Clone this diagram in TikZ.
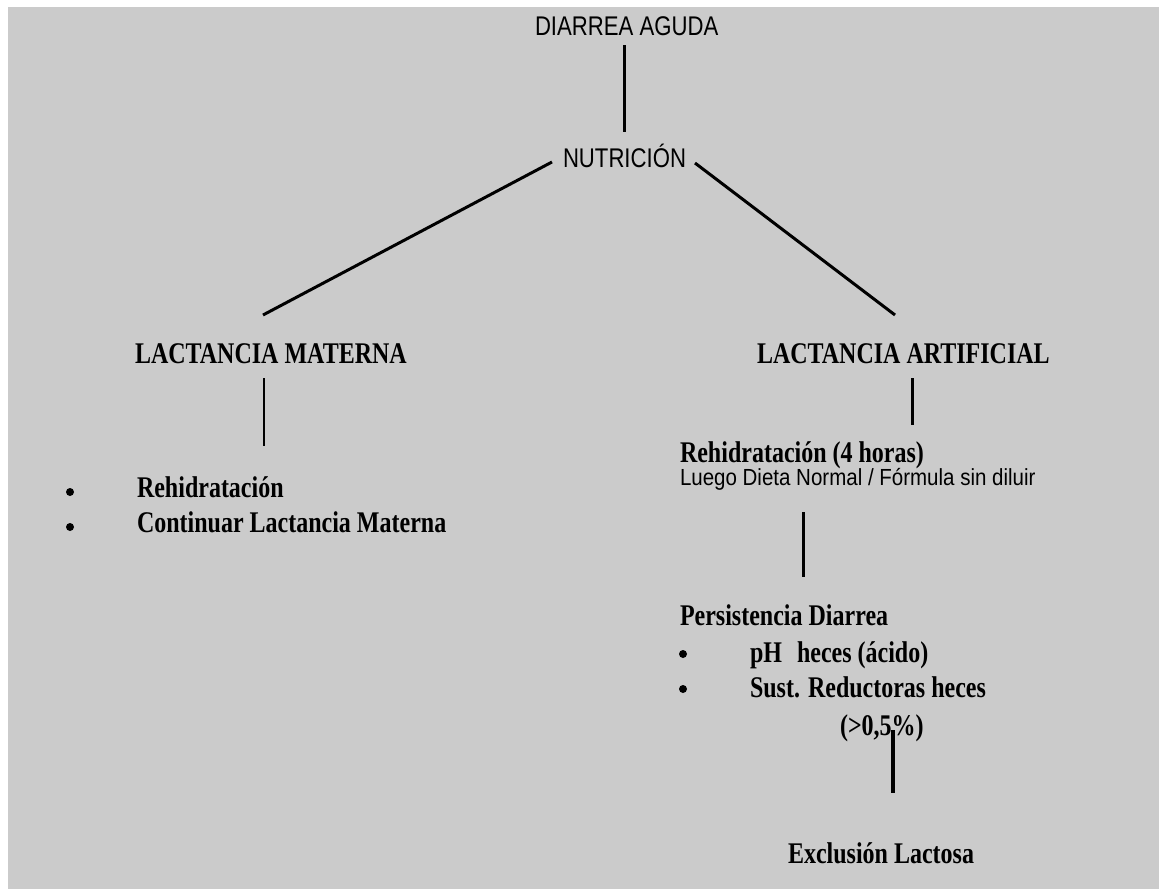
\documentclass[tikz,border=0pt]{standalone}
\usepackage{fontspec}
\setmainfont{Liberation Serif}
\newfontfamily\titlesans[FakeStretch=0.82]{Liberation Sans}
\newfontfamily\plainsans[FakeStretch=0.88]{Liberation Sans}
\newfontfamily\boldserif[FakeStretch=0.8]{Liberation Serif}
\begin{document}
\begin{tikzpicture}[x=1pt,y=-1pt,
  every node/.style={inner sep=0pt,outer sep=0pt,anchor=base west,text=black},
  ttl/.style={font=\titlesans\fontsize{27}{30}\selectfont},
  lbl/.style={font=\boldserif\bfseries\fontsize{30}{34}\selectfont},
  nrm/.style={font=\plainsans\fontsize{23.3}{26}\selectfont},
  thick line/.style={line width=3pt,black},
  thin line/.style={line width=1.5pt,black},
  dot/.style={circle,fill=black,minimum size=8pt,inner sep=0pt,anchor=center}]
\useasboundingbox (0,0) rectangle (1159,889);
\fill[white] (0,0) rectangle (1159,889);
\fill[fill={rgb,255:red,203;green,203;blue,203}] (8,7) rectangle (1159,889);

% texts
\node[ttl] (diarrea) at (535,35) {DIARREA AGUDA};
\node[ttl] (nutricion) at (563,167) {NUTRICIÓN};
\node[lbl] (materna) at (135,363) {LACTANCIA MATERNA};
\node[lbl] (artificial) at (757,363) {LACTANCIA ARTIFICIAL};
\node[dot] (b1) at (70,492) {};
\node[dot] (b2) at (70,527) {};
\node[lbl] (rehid) at (137,497) {Rehidratación};
\node[lbl] (contin) at (137,532) {Continuar Lactancia Materna};
\node[lbl] (rehid4) at (680,462) {Rehidratación (4 horas)};
\node[nrm] (luego) at (680,485) {Luego Dieta Normal / Fórmula sin diluir};
\node[lbl] (persist) at (680,625) {Persistencia Diarrea};
\node[dot] (b3) at (683,654) {};
\node[dot] (b4) at (683,689) {};
\node[lbl] (ph) at (750,662) {pH\hspace{0.5em}heces (ácido)};
\node[lbl] (sust) at (750,697) {Sust. Reductoras heces};
\node[lbl] (pct) at (840,735) {(>0,5\%)};
\node[lbl] (excl) at (788,863) {Exclusión Lactosa};

% connector end points
\coordinate (c1a) at (624,45);   \coordinate (c1b) at (624,132);
\coordinate (c2a) at (552,162);  \coordinate (c2b) at (263,315);
\coordinate (c3a) at (695,163);  \coordinate (c3b) at (895,315);
\coordinate (c4a) at (264,378);  \coordinate (c4b) at (264,446);
\coordinate (c5a) at (912,378);  \coordinate (c5b) at (912,425);
\coordinate (c6a) at (803,512);  \coordinate (c6b) at (803,577);
\coordinate (c7a) at (893,730);  \coordinate (c7b) at (893,793);

\draw[thick line] (c1a) -- (c1b);
\draw[thick line] (c2a) -- (c2b);
\draw[thick line] (c3a) -- (c3b);
\draw[thin line] (c4a) -- (c4b);
\draw[thick line] (c5a) -- (c5b);
\draw[thick line] (c6a) -- (c6b);
\draw[line width=3.5pt,black] (c7a) -- (c7b);
\end{tikzpicture}
\end{document}
